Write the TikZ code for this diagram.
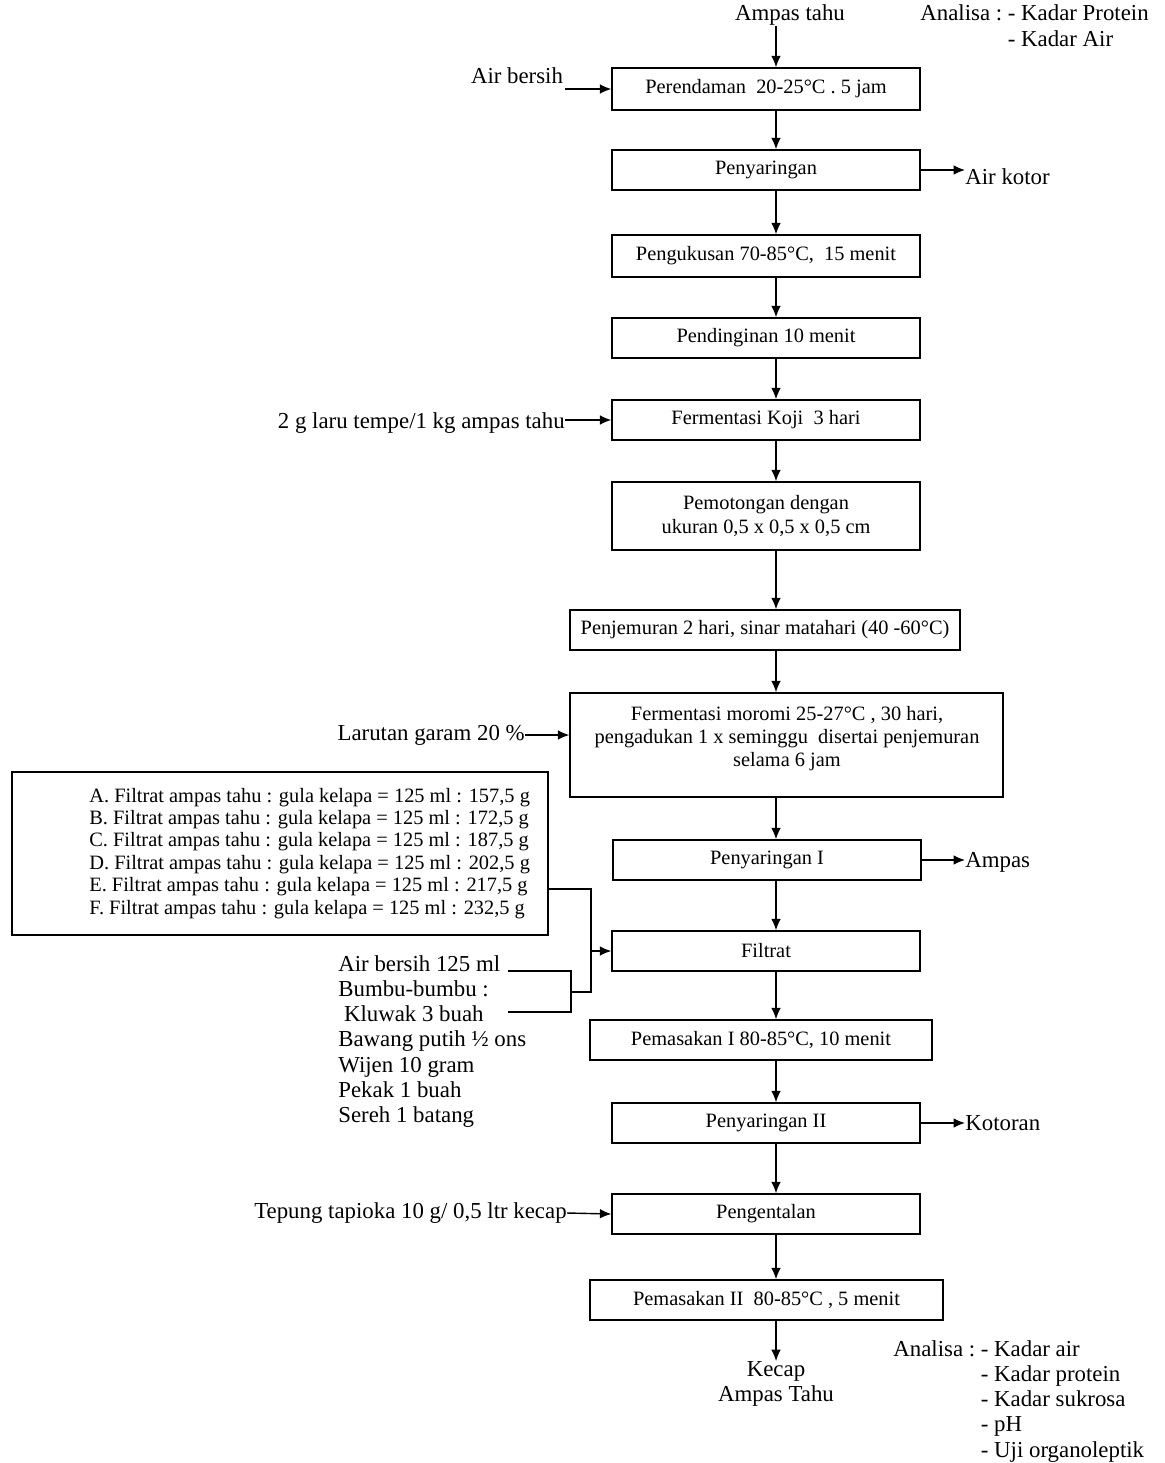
\documentclass[tikz,border=0pt]{standalone}
\usepackage{fontspec}
\setmainfont{Liberation Serif}
\usetikzlibrary{arrows.meta}
\newcommand{\procfont}{\fontsize{11.6}{13.2}\selectfont}
\newcommand{\notefont}{\fontsize{13}{14.4}\selectfont}
\newcommand{\recfont}{\fontsize{11.6}{12.8}\selectfont}
\begin{document}
\begin{tikzpicture}[x=0.02cm, y=-0.02cm]
    \tikzstyle{every node}+=[inner sep=0pt]
    \tikzstyle{proc}=[draw, line width=0.8pt, font=\procfont, minimum width=6.16cm, minimum height=0.8cm]
    \tikzstyle{note}=[font=\notefont]
    \tikzstyle{flow}=[line width=0.8pt, -{Latex[length=6.5pt,width=5.5pt]}]
    \tikzstyle{link}=[line width=0.8pt]
    \useasboundingbox (0,0) rectangle (1165,1463);
    \coordinate (ax) at (776,0);
    \node [note] (bahan) at (790,15) {Ampas tahu};
    \node [note, anchor=base west] (analisa1) at (920,21) {\begin{tabular}[t]{@{}l@{\ }l@{}}Analisa : & - Kadar Protein\\ & - Kadar Air\end{tabular}};
    \node [proc, minimum height=0.84cm] (rendam) at (766,89) {Perendaman\ \ 20-25°C . 5 jam};
    \node [proc] (saring) at (766,170) {Penyaringan};
    \node [proc, minimum height=0.84cm] (kukus) at (766,256) {Pengukusan 70-85°C,\ \ 15 menit};
    \node [proc] (dingin) at (766,338) {Pendinginan 10 menit};
    \node [proc] (koji) at (766,420) {Fermentasi Koji\ \ 3 hari};
    \node [proc, minimum height=1.36cm, align=center] (potong) at (766,516) {Pemotongan dengan\\ukuran 0,5 x 0,5 x 0,5 cm};
    \node [proc, minimum width=7.8cm] (jemur) at (765,630) {Penjemuran 2 hari, sinar matahari (40 -60°C)};
    \node [proc, minimum width=8.66cm, minimum height=2.08cm] (moromi) at (786.5,745) {};
    \node [font=\procfont, align=center] (moromiteks) at (787,738.5) {Fermentasi moromi 25-27°C , 30 hari,\\pengadukan 1 x seminggu\ \ disertai penjemuran\\selama 6 jam};
    \node [proc] (saring1) at (767,860) {Penyaringan I};
    \node [proc] (filtrat) at (766,951) {Filtrat};
    \node [proc, minimum width=6.84cm] (masak1) at (761,1040) {Pemasakan I 80-85°C, 10 menit};
    \node [proc] (saring2) at (766,1123) {Penyaringan II};
    \node [proc] (kental) at (766,1214) {Pengentalan};
    \node [proc, minimum width=7.06cm] (masak2) at (766.5,1300) {Pemasakan II\ \ 80-85°C , 5 menit};
    \node [note, align=center] (kecap) at (776,1384) {Kecap\\Ampas Tahu};
    \node [note, anchor=base west] (analisa2) at (893,1356) {\begin{tabular}[t]{@{}l@{\ }l@{}}Analisa : & - Kadar air\\ & - Kadar protein\\ & - Kadar sukrosa\\ & - pH\\ & - Uji organoleptik\end{tabular}};
    \node [note] (airbersih) at (517,76) {Air bersih};
    \coordinate (airmasuk) at (565,89);
    \node [note, anchor=west] (airkotor) at (965,177) {Air kotor};
    \node [note, anchor=east] (laru) at (565,423) {2 g laru tempe/1 kg ampas tahu};
    \node [note, anchor=east] (garam) at (525,735) {Larutan garam 20 \%};
    \node [note, anchor=west] (ampas) at (965,862) {Ampas};
    \node [note, anchor=west] (kotoran) at (965,1123) {Kotoran};
    \node [note, anchor=east] (tepung) at (567,1213) {Tepung tapioka 10 g/ 0,5 ltr kecap};
    \node [draw, link, minimum width=10.72cm, minimum height=3.26cm] (resep) at (280,853.5) {};
    \node [font=\recfont, anchor=base west] (resepteks) at (89,802) {\begin{tabular}[t]{@{}l@{}}A. Filtrat ampas tahu : gula kelapa = 125 ml : 157,5 g\\B. Filtrat ampas tahu : gula kelapa = 125 ml : 172,5 g\\C. Filtrat ampas tahu : gula kelapa = 125 ml : 187,5 g\\D. Filtrat ampas tahu : gula kelapa = 125 ml : 202,5 g\\E. Filtrat ampas tahu : gula kelapa = 125 ml : 217,5 g\\F. Filtrat ampas tahu : gula kelapa = 125 ml : 232,5 g\end{tabular}};
    \node [note, anchor=base west] (bumbu) at (338,971) {\begin{tabular}[t]{@{}l@{}}Air bersih 125 ml\\Bumbu-bumbu :\\\ Kluwak 3 buah\\Bawang putih ½ ons\\Wijen 10 gram\\Pekak 1 buah\\Sereh 1 batang\end{tabular}};
    \coordinate (e1) at (591,889);
    \coordinate (e2) at (591,992);
    \coordinate (b1) at (508,971);
    \coordinate (b2) at (571,971);
    \coordinate (b3) at (571,1012);
    \coordinate (b4) at (508,1012);
    \foreach \a/\b in {rendam/saring, saring/kukus, kukus/dingin, dingin/koji, koji/potong, potong/jemur, jemur/moromi, moromi/saring1, saring1/filtrat, filtrat/masak1, masak1/saring2, saring2/kental, kental/masak2, masak2/kecap}
        \draw [flow] (\a.south -| ax) -- (\b.north -| ax);
    \draw [flow] (bahan.south -| ax) -- (rendam.north -| ax);
    \draw [flow] (airmasuk) -- (rendam.west);
    \draw [flow] (saring.east) -- (saring.east -| airkotor.west);
    \draw [flow] (laru.east |- koji.west) -- (koji.west);
    \draw [flow] (garam.east) -- (garam.east -| moromi.west);
    \draw [flow] (saring1.east) -- (saring1.east -| ampas.west);
    \draw [flow] (saring2.east) -- (saring2.east -| kotoran.west);
    \draw [flow] (tepung.east) -- (kental.west);
    \draw [link] (resep.east |- e1) -- (e1) -- (e2) -- (e2 -| b2);
    \draw [link] (b1) -- (b2) -- (b3) -- (b4);
    \draw [flow] (e1 |- filtrat.west) -- (filtrat.west);
\end{tikzpicture}
\end{document}
